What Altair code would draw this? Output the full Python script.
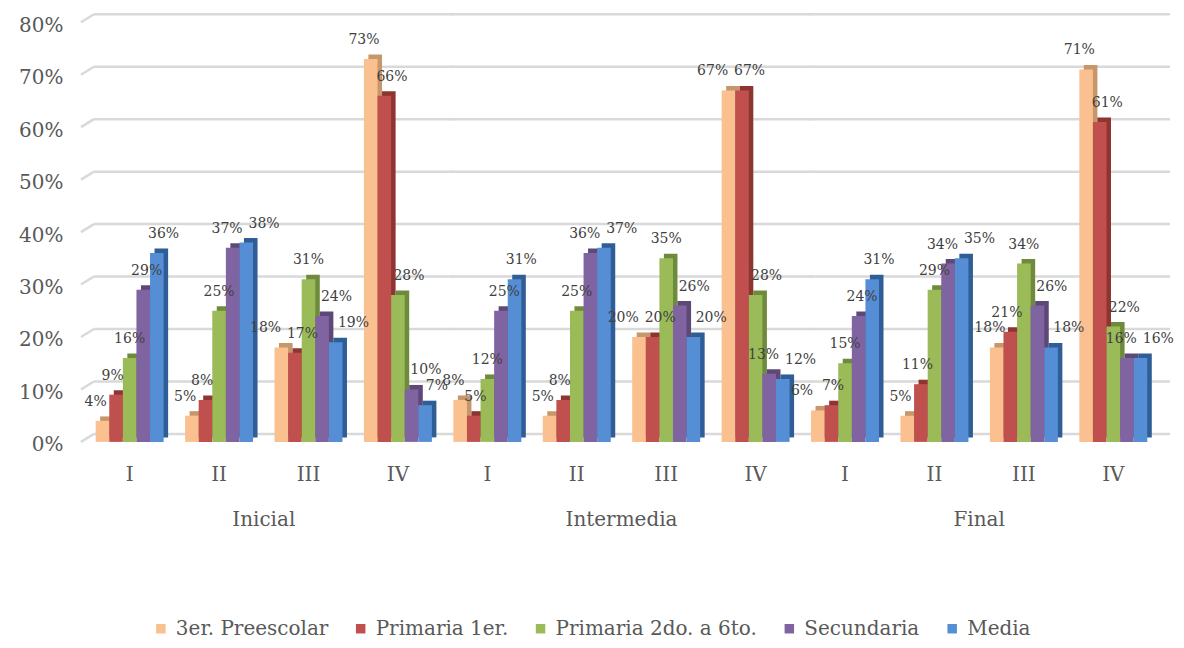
import json
import altair as alt
import pandas as pd

niveles = ["Inicial", "Intermedia", "Final"]
trimestres = ["I", "II", "III", "IV"]
series = ["3er. Preescolar", "Primaria 1er.", "Primaria 2do. a 6to.", "Secundaria", "Media"]

# values per series, order: Inicial I-IV, Intermedia I-IV, Final I-IV
preescolar = [4, 5, 18, 73, 8, 5, 20, 67, 6, 5, 18, 71]
primaria1 = [9, 8, 17, 66, 5, 8, 20, 67, 7, 11, 21, 61]
primaria2 = [16, 25, 31, 28, 12, 25, 35, 28, 15, 29, 34, 22]
secundaria = [29, 37, 24, 10, 25, 36, 26, 13, 24, 34, 26, 16]
media = [36, 38, 19, 7, 31, 37, 20, 12, 31, 35, 18, 16]

grid_values = [0, 10, 20, 30, 40, 50, 60, 70, 80]

colores = ["#FAC090", "#C0504D", "#9BBB59", "#8064A2", "#558ED5"]
colores_lado = ["#C8966B", "#8E3532", "#6E8B3D", "#5E4878", "#2F5D96"]

valores = [preescolar, primaria1, primaria2, secundaria, media]
rows = []
for s, vals in zip(series, valores):
    for i, v in enumerate(vals):
        rows.append({"tipo": "bar", "nivel": niveles[i // 4], "trim": trimestres[i % 4],
                     "serie": s, "valor": v, "g": None})
for n in niveles:
    for g in grid_values:
        rows.append({"tipo": "grid", "nivel": n, "trim": None, "serie": None, "valor": None, "g": g})
df = pd.DataFrame(rows)

FONT = "DejaVu Serif"
W = 358
H = 420
BAND = W / 4 * 0.76

x_enc = alt.X("trim:N", sort=trimestres, title=None,
              scale=alt.Scale(paddingInner=0.24, paddingOuter=0.12),
              axis=alt.Axis(labelFont=FONT, labelFontSize=20, labelColor="#595959",
                            ticks=False, domain=False, labelPadding=23, labelAngle=0))
y_enc = alt.Y("valor:Q", title=None,
              scale=alt.Scale(domain=[0, 80]),
              axis=alt.Axis(values=grid_values, labelExpr="datum.value + '%'",
                            labelFont=FONT, labelFontSize=20, labelColor="#595959",
                            ticks=False, domain=False, grid=False, labelPadding=22,
                            labelOffset=3))


def offset_scale(rng=None):
    if rng is None:
        return alt.XOffset("serie:N", sort=series,
                           scale=alt.Scale(domain=series, paddingInner=0, paddingOuter=0))
    return alt.XOffset("serie:N", sort=series,
                       scale=alt.Scale(domain=series, range=rng, paddingInner=0, paddingOuter=0))


bars_filter = alt.datum.tipo == "bar"

grid = alt.Chart().mark_rule(color="#D9D9D9", strokeWidth=2.5, yOffset=-8).encode(
    y=alt.Y("g:Q", scale=alt.Scale(domain=[0, 80])),
    x=alt.value(9), x2=alt.value(W + 12),
).transform_filter(alt.datum.tipo == "grid")

stubs = alt.Chart().mark_rule(color="#D9D9D9", strokeWidth=2.5, y2Offset=-8).encode(
    y=alt.Y("g:Q"), y2=alt.Y2("g:Q"), x=alt.value(-4), x2=alt.value(9)
).transform_filter((alt.datum.tipo == "grid") & (alt.datum.nivel == "Inicial"))

back = alt.Chart().mark_bar(yOffset=-4.5, y2Offset=-4.5).encode(
    x=x_enc,
    xOffset=offset_scale([4.5, BAND + 4.5]),
    y=y_enc,
    color=alt.Color("serie:N", scale=alt.Scale(domain=series, range=colores_lado), legend=None),
).transform_filter(bars_filter)

front = alt.Chart().mark_bar().encode(
    x=x_enc,
    xOffset=offset_scale(),
    y=y_enc,
    fill=alt.Fill("serie:N", scale=alt.Scale(domain=series, range=colores),
                  legend=alt.Legend(title=None, orient="none", direction="horizontal",
                                    legendX=66, legendY=597,
                                    symbolType="square", symbolSize=90, symbolStrokeWidth=0,
                                    labelFont=FONT, labelFontSize=20, labelColor="#595959",
                                    labelLimit=0, columnPadding=22, labelOffset=5)),
).transform_filter(bars_filter)

serie_idx = "indexof(" + json.dumps(series) + ", datum.serie)"
pos_expr = ("isValid(datum.sig) && abs(datum.sig - datum.valor) <= 2 ? 'L' : "
            "(isValid(datum.ant) && datum.ant >= datum.valor - 2 ? "
            "(datum.valor < 10 ? 'r' : 'R') : 'C')")


def label_layer(pos, dx):
    return alt.Chart().mark_text(font=FONT, fontSize=14, color="#404040",
                                 baseline="middle", dy=-19, dx=dx).encode(
        x=x_enc,
        xOffset=offset_scale(),
        y=y_enc,
        text=alt.Text("etiqueta:N"),
    ).transform_filter(bars_filter).transform_calculate(
        idx=serie_idx
    ).transform_window(
        ant="lag(valor)", sig="lead(valor)",
        groupby=["nivel", "trim"], sort=[alt.SortField("idx")]
    ).transform_calculate(
        pos=pos_expr, etiqueta="datum.valor + '%'"
    ).transform_filter(alt.datum.pos == pos)


labels_c = label_layer("C", 0)
labels_l = label_layer("L", -9)
labels_r = label_layer("R", 11)
labels_rs = label_layer("r", 5)

layered = alt.layer(grid, stubs, back, front, labels_c, labels_l, labels_r, labels_rs).resolve_scale(
    xOffset="independent", color="independent"
).properties(width=W, height=H)

chart = layered.facet(
    column=alt.Column("nivel:N", sort=niveles, title=None,
                      header=alt.Header(labelOrient="bottom", labelFont=FONT, labelFontSize=20,
                                        labelColor="#595959", labelPadding=25)),
    data=df,
    spacing=0,
    bounds="flush",
).properties(
    padding={"left": 10, "top": 4, "right": 2, "bottom": 0}
).configure_view(stroke=None).configure_axis(grid=False)

chart.save("out.html", embed_options={"renderer": "svg", "actions": False})
